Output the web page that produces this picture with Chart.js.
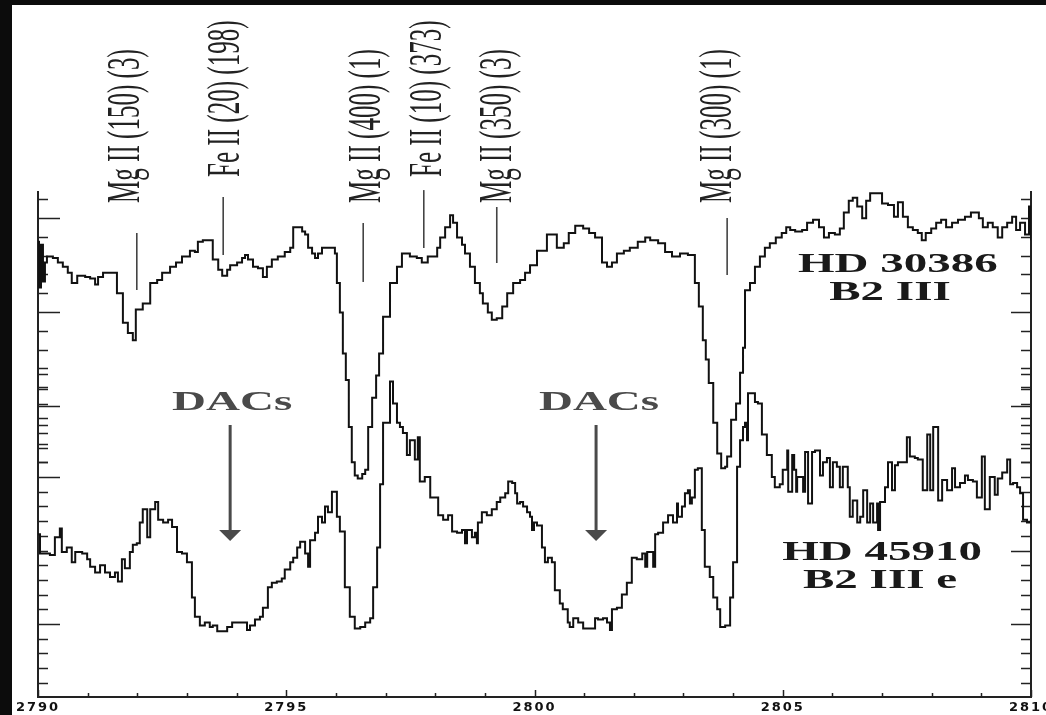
<!DOCTYPE html>
<html><head><meta charset="utf-8">
<script src="https://cdn.jsdelivr.net/npm/chart.js@4.4.1/dist/chart.umd.min.js"></script>
<style>
html,body{margin:0;padding:0;width:1046px;height:715px;overflow:hidden;background:#0c0c0c;}
#panel{position:absolute;left:12px;top:5px;width:1058px;height:710px;background:#fff;}
canvas{display:block;}
</style></head><body>
<div id="panel"><canvas id="c" width="1058" height="710"></canvas></div>
<script>
// ---- data (wavelength in Angstrom, relative flux) ----
const xTickValues = [2790, 2795, 2800, 2805, 2810];
const xMinorTicks = [2791,2792,2793,2794,2796,2797,2798,2799,2801,2802,2803,2804,2806,2807,2808,2809];

const lambdaTop = [2790.00,2790.02,2790.06,2790.10,2790.14,2790.18,2790.30,2790.40,2790.50,2790.60,2790.68,2790.79,2790.95,2791.05,2791.15,2791.21,2791.31,2791.49,2791.59,2791.71,2791.81,2791.91,2791.97,2792.11,2792.26,2792.40,2792.50,2792.66,2792.78,2792.90,2793.06,2793.16,2793.22,2793.32,2793.46,2793.52,2793.63,2793.71,2793.81,2793.87,2794.01,2794.11,2794.17,2794.23,2794.33,2794.43,2794.53,2794.61,2794.71,2794.83,2794.97,2795.08,2795.14,2795.24,2795.32,2795.38,2795.44,2795.52,2795.58,2795.64,2795.72,2795.84,2795.98,2796.02,2796.08,2796.14,2796.20,2796.26,2796.32,2796.38,2796.44,2796.53,2796.59,2796.65,2796.73,2796.81,2796.87,2796.95,2797.09,2797.23,2797.33,2797.49,2797.63,2797.73,2797.85,2798.04,2798.10,2798.20,2798.30,2798.36,2798.44,2798.54,2798.60,2798.70,2798.80,2798.90,2798.96,2799.06,2799.14,2799.24,2799.35,2799.45,2799.57,2799.71,2799.81,2799.91,2800.05,2800.25,2800.45,2800.59,2800.69,2800.82,2800.98,2801.10,2801.22,2801.36,2801.46,2801.56,2801.66,2801.80,2801.92,2802.08,2802.23,2802.33,2802.49,2802.63,2802.77,2802.93,2803.09,2803.23,2803.31,2803.39,2803.45,2803.51,2803.60,2803.68,2803.76,2803.84,2803.88,2803.96,2804.06,2804.14,2804.20,2804.24,2804.34,2804.44,2804.54,2804.64,2804.74,2804.86,2804.98,2805.07,2805.15,2805.25,2805.39,2805.49,2805.61,2805.73,2805.83,2805.93,2806.05,2806.15,2806.23,2806.33,2806.41,2806.50,2806.60,2806.68,2806.76,2806.86,2807.00,2807.12,2807.24,2807.32,2807.42,2807.52,2807.62,2807.72,2807.80,2807.88,2807.99,2808.09,2808.19,2808.29,2808.41,2808.53,2808.67,2808.79,2808.95,2809.03,2809.13,2809.23,2809.33,2809.42,2809.52,2809.62,2809.70,2809.78,2809.88,2809.96,2810.00];
const fluxTop = [2.60,2.29,2.58,2.33,2.46,2.50,2.49,2.46,2.43,2.39,2.32,2.37,2.36,2.35,2.31,2.36,2.39,2.39,2.25,2.05,1.98,1.93,2.14,2.18,2.32,2.34,2.39,2.43,2.46,2.50,2.54,2.53,2.60,2.61,2.61,2.48,2.41,2.37,2.41,2.44,2.46,2.49,2.51,2.48,2.43,2.42,2.36,2.43,2.48,2.50,2.53,2.56,2.70,2.70,2.67,2.65,2.56,2.52,2.49,2.52,2.56,2.56,2.52,2.32,2.12,1.84,1.66,1.34,1.10,1.01,0.99,1.02,1.05,1.34,1.54,1.69,1.84,2.09,2.32,2.43,2.52,2.50,2.49,2.46,2.50,2.56,2.63,2.70,2.78,2.73,2.63,2.58,2.52,2.43,2.32,2.25,2.18,2.12,2.07,2.08,2.16,2.25,2.32,2.34,2.39,2.44,2.54,2.65,2.56,2.59,2.66,2.71,2.69,2.66,2.63,2.46,2.43,2.46,2.52,2.54,2.56,2.60,2.63,2.61,2.59,2.53,2.50,2.52,2.51,2.32,2.16,1.93,1.80,1.64,1.37,1.16,1.06,1.07,1.14,1.39,1.50,1.71,1.88,2.27,2.32,2.43,2.50,2.56,2.59,2.63,2.66,2.70,2.68,2.67,2.68,2.73,2.75,2.70,2.63,2.66,2.65,2.69,2.80,2.88,2.90,2.84,2.76,2.88,2.93,2.93,2.86,2.85,2.77,2.87,2.77,2.70,2.68,2.66,2.61,2.66,2.69,2.73,2.75,2.70,2.73,2.75,2.77,2.80,2.76,2.70,2.73,2.70,2.63,2.70,2.73,2.77,2.68,2.73,2.65,2.84,2.61];

const lambdaBottom = [2790.00,2790.04,2790.14,2790.24,2790.34,2790.44,2790.48,2790.58,2790.68,2790.75,2790.89,2790.99,2791.05,2791.15,2791.25,2791.35,2791.45,2791.55,2791.61,2791.69,2791.75,2791.85,2791.91,2791.99,2792.05,2792.11,2792.20,2792.26,2792.36,2792.42,2792.52,2792.62,2792.70,2792.80,2792.90,2793.00,2793.10,2793.16,2793.26,2793.36,2793.46,2793.52,2793.61,2793.71,2793.81,2793.91,2794.01,2794.11,2794.21,2794.27,2794.37,2794.47,2794.53,2794.63,2794.71,2794.81,2794.91,2794.97,2795.08,2795.14,2795.22,2795.28,2795.38,2795.44,2795.48,2795.58,2795.64,2795.72,2795.78,2795.84,2795.92,2796.02,2796.08,2796.18,2796.28,2796.38,2796.49,2796.59,2796.69,2796.75,2796.83,2796.89,2796.95,2797.03,2797.09,2797.15,2797.23,2797.29,2797.35,2797.43,2797.49,2797.59,2797.65,2797.69,2797.79,2797.90,2797.96,2798.06,2798.16,2798.26,2798.34,2798.44,2798.54,2798.60,2798.64,2798.74,2798.80,2798.84,2798.86,2798.94,2799.04,2799.14,2799.24,2799.31,2799.41,2799.47,2799.55,2799.61,2799.65,2799.71,2799.77,2799.85,2799.91,2799.95,2799.99,2800.05,2800.15,2800.21,2800.27,2800.35,2800.41,2800.51,2800.57,2800.67,2800.71,2800.78,2800.88,2800.98,2801.12,2801.22,2801.28,2801.38,2801.46,2801.52,2801.56,2801.66,2801.76,2801.86,2801.96,2802.06,2802.17,2802.23,2802.27,2802.37,2802.39,2802.43,2802.49,2802.59,2802.69,2802.79,2802.87,2802.89,2802.97,2803.03,2803.09,2803.13,2803.17,2803.23,2803.29,2803.37,2803.43,2803.53,2803.60,2803.68,2803.74,2803.84,2803.94,2804.00,2804.08,2804.14,2804.20,2804.24,2804.28,2804.30,2804.38,2804.44,2804.50,2804.58,2804.68,2804.78,2804.84,2804.94,2805.00,2805.09,2805.11,2805.19,2805.23,2805.27,2805.29,2805.39,2805.41,2805.45,2805.51,2805.59,2805.65,2805.75,2805.81,2805.89,2805.95,2806.01,2806.09,2806.15,2806.21,2806.31,2806.35,2806.41,2806.50,2806.56,2806.62,2806.70,2806.76,2806.82,2806.90,2806.92,2806.96,2807.06,2807.12,2807.20,2807.26,2807.32,2807.40,2807.50,2807.56,2807.66,2807.72,2807.82,2807.91,2807.97,2808.03,2808.13,2808.21,2808.31,2808.41,2808.47,2808.57,2808.67,2808.73,2808.83,2808.91,2809.01,2809.07,2809.17,2809.27,2809.33,2809.42,2809.52,2809.58,2809.64,2809.72,2809.78,2809.84,2809.92,2810.00];
const fluxBottom = [0.61,0.48,0.48,0.47,0.59,0.65,0.49,0.52,0.42,0.49,0.48,0.44,0.39,0.35,0.40,0.35,0.32,0.35,0.29,0.44,0.38,0.49,0.54,0.55,0.69,0.78,0.59,0.78,0.83,0.71,0.69,0.71,0.66,0.49,0.48,0.42,0.18,0.05,-0.01,0.01,-0.02,-0.01,-0.05,-0.05,-0.02,0.01,0.01,0.01,-0.04,-0.01,0.03,0.05,0.11,0.25,0.28,0.29,0.31,0.37,0.42,0.45,0.52,0.56,0.48,0.39,0.57,0.62,0.73,0.69,0.80,0.76,0.90,0.73,0.63,0.25,0.05,-0.03,-0.02,0.01,0.04,0.25,0.52,0.95,1.37,1.37,1.65,1.50,1.37,1.34,1.30,1.15,1.25,1.12,1.27,0.97,1.00,0.86,0.86,0.74,0.71,0.74,0.63,0.62,0.64,0.55,0.64,0.59,0.62,0.55,0.69,0.76,0.74,0.78,0.83,0.86,0.89,0.97,0.96,0.89,0.82,0.83,0.80,0.76,0.73,0.64,0.69,0.67,0.52,0.42,0.45,0.42,0.23,0.14,0.10,0.01,-0.02,0.04,0.01,-0.03,-0.03,0.04,0.03,0.04,0.01,-0.04,0.10,0.11,0.20,0.28,0.45,0.44,0.48,0.39,0.49,0.49,0.39,0.61,0.62,0.69,0.74,0.69,0.82,0.73,0.80,0.89,0.91,0.82,0.86,1.05,1.06,0.64,0.39,0.32,0.18,0.10,-0.02,-0.01,0.18,0.42,1.07,1.25,1.34,1.37,1.25,1.57,1.57,1.51,1.50,1.29,1.15,1.00,0.93,0.95,1.05,1.18,0.90,1.15,1.05,0.90,1.00,1.00,0.90,1.17,0.82,1.17,1.18,1.01,1.10,1.13,0.93,1.10,1.07,0.93,1.07,0.93,0.73,0.84,0.69,0.73,0.91,0.69,0.82,0.69,0.82,0.64,0.83,0.93,1.10,0.91,1.08,1.10,1.10,1.27,1.14,1.13,1.12,0.91,1.29,0.91,1.34,0.84,0.98,0.91,1.06,0.93,0.96,1.01,0.98,0.97,0.86,1.14,0.78,1.00,0.88,0.99,1.03,1.12,0.95,0.96,0.93,0.89,0.71,0.69,0.71];

// unlabelled y-axis tick sets (two overlaid panels)
const yTicksA = [-0.4,-0.3,-0.2,-0.1,0,0.1,0.2,0.3,0.4,0.5,0.6,0.7,0.8,0.9,1.0,1.1,1.2,1.3,1.4,1.5,1.6,1.7];
const yTicksB = [0.4,0.6,0.8,1.0,1.2,1.4,1.6,1.8,2.0,2.2,2.4,2.6,2.8,3.0,3.2];
const majorsA = {left:[0,1], right:[0,0.5]};
const majorsB = {left:[1,2,3], right:[1,2]};

// annotations
const lineLabels = [
  {text:'Mg II (150) (3)', x:2792.03, y:2.864, lineX:2791.99, lineTop:2.660, lineBottom:2.272},
  {text:'Fe II (20) (198)', x:2794.05, y:3.041, lineX:2793.73, lineTop:2.905, lineBottom:2.510},
  {text:'Mg II (400) (1)', x:2796.89, y:2.864, lineX:2796.55, lineTop:2.728, lineBottom:2.327},
  {text:'Fe II (10) (373)', x:2798.12, y:3.041, lineX:2797.77, lineTop:2.952, lineBottom:2.558},
  {text:'Mg II (350) (3)', x:2799.53, y:2.864, lineX:2799.24, lineTop:2.837, lineBottom:2.456},
  {text:'Mg II (300) (1)', x:2803.96, y:2.864, lineX:2803.88, lineTop:2.762, lineBottom:2.374}
];
const starLabels = [
  {text:'HD 30386', x:2807.32, y:2.395},
  {text:'B2 III', x:2807.16, y:2.204},
  {text:'HD 45910', x:2807.00, y:0.435},
  {text:'B2 III e', x:2806.96, y:0.245}
];
const dacs = [
  {text:'DACs', x:2793.91, y:1.456, arrowX:2793.87, from:1.354, headStart:0.639, tip:0.565},
  {text:'DACs', x:2801.30, y:1.456, arrowX:2801.24, from:1.354, headStart:0.639, tip:0.565}
];

if (lambdaTop.length !== fluxTop.length) throw new Error('top length ' + lambdaTop.length + ' vs ' + fluxTop.length);
if (lambdaBottom.length !== fluxBottom.length) throw new Error('bottom length ' + lambdaBottom.length + ' vs ' + fluxBottom.length);

const Y_MIN = -0.4966, Y_MAX = 2.939;
const SQUASH = 0.57;
const LABEL_SQUASH = 0.545;

const deco = {
  id: 'deco',
  beforeDraw(chart) { chart.ctx.letterSpacing = '2px'; },
  beforeDatasetsDraw(chart) {
    const ctx = chart.ctx; ctx.letterSpacing = '0px';
    const a = chart.chartArea, ys = chart.scales.y, yb = chart.scales.yB, xs = chart.scales.x;
    ctx.save();
    ctx.strokeStyle = '#222'; ctx.lineWidth = 1.5;
    const drawSet = (vals, scale, majors) => {
      vals.forEach(v => {
        const py = Math.round(scale.getPixelForValue(v)) + 0.5;
        const ll = majors.left.some(m => Math.abs(m - v) < 1e-6) ? 22 : 10;
        const lr = majors.right.some(m => Math.abs(m - v) < 1e-6) ? 20 : 10;
        ctx.beginPath(); ctx.moveTo(a.left, py); ctx.lineTo(a.left + ll, py); ctx.stroke();
        ctx.beginPath(); ctx.moveTo(a.right, py); ctx.lineTo(a.right - lr, py); ctx.stroke();
      });
    };
    drawSet(yTicksA, ys, majorsA);
    drawSet(yTicksB, yb, majorsB);
    xMinorTicks.forEach(v => { const px = Math.round(xs.getPixelForValue(v)) + 0.5; ctx.beginPath(); ctx.moveTo(px, a.bottom); ctx.lineTo(px, a.bottom - 4); ctx.stroke(); });
    xTickValues.forEach(v => { const px = Math.round(xs.getPixelForValue(v)) + 0.5; ctx.beginPath(); ctx.moveTo(px, a.bottom); ctx.lineTo(px, a.bottom - 7); ctx.stroke(); });
    ctx.restore();
  },
  afterDraw(chart) {
    const ctx = chart.ctx, xs = chart.scales.x, ys = chart.scales.y;
    const X = v => xs.getPixelForValue(v), Y = v => ys.getPixelForValue(v);
    ctx.save();
    ctx.letterSpacing = '0px';
    ctx.strokeStyle = '#444'; ctx.lineWidth = 1.6;
    lineLabels.forEach(l => {
      ctx.beginPath(); ctx.moveTo(X(l.lineX), Y(l.lineTop)); ctx.lineTo(X(l.lineX), Y(l.lineBottom)); ctx.stroke();
    });
    ctx.fillStyle = '#222'; ctx.font = '46px "Liberation Serif"'; ctx.textAlign = 'left'; ctx.textBaseline = 'alphabetic';
    lineLabels.forEach(l => {
      ctx.save(); ctx.translate(X(l.x), Y(l.y)); ctx.scale(1, LABEL_SQUASH); ctx.rotate(-Math.PI / 2);
      ctx.fillText(l.text, 0, 0); ctx.restore();
    });
    ctx.fillStyle = '#1a1a1a'; ctx.font = 'bold 47px "Liberation Serif"'; ctx.textAlign = 'center';
    starLabels.forEach(l => {
      ctx.save(); ctx.translate(X(l.x), Y(l.y)); ctx.scale(1, SQUASH); ctx.fillText(l.text, 0, 0); ctx.restore();
    });
    ctx.fillStyle = '#4a4a4a'; ctx.strokeStyle = '#4a4a4a';
    dacs.forEach(d => {
      ctx.save(); ctx.translate(X(d.x), Y(d.y)); ctx.scale(1, SQUASH); ctx.fillText(d.text, 0, 0); ctx.restore();
      const ax = X(d.arrowX);
      ctx.lineWidth = 3;
      ctx.beginPath(); ctx.moveTo(ax, Y(d.from)); ctx.lineTo(ax, Y(d.headStart)); ctx.stroke();
      ctx.beginPath(); ctx.moveTo(ax - 11, Y(d.headStart)); ctx.lineTo(ax + 11, Y(d.headStart)); ctx.lineTo(ax, Y(d.tip)); ctx.closePath(); ctx.fill();
    });
    ctx.restore();
  }
};

const yAxisBase = (pos) => ({
  type: 'linear', position: pos, min: Y_MIN, max: Y_MAX,
  grid: { display: false, drawTicks: false },
  border: { display: true, color: '#222', width: 2 },
  ticks: { display: false },
  afterFit: s => { s.width = 0; }
});

new Chart(document.getElementById('c'), {
  type: 'line',
  data: {
    datasets: [
      { label: 'HD 30386 (B2 III)', data: lambdaTop.map((x, i) => ({ x, y: fluxTop[i] })), borderColor: '#111', borderWidth: 2, stepped: 'before', pointRadius: 0, fill: false },
      { label: 'HD 45910 (B2 III e)', data: lambdaBottom.map((x, i) => ({ x, y: fluxBottom[i] })), borderColor: '#111', borderWidth: 2, stepped: 'before', pointRadius: 0, fill: false }
    ]
  },
  options: {
    responsive: false, animation: false, devicePixelRatio: 1,
    layout: { padding: { left: 26, right: 39, top: 187, bottom: 2 } },
    plugins: { legend: { display: false }, tooltip: { enabled: false } },
    scales: {
      x: {
        type: 'linear', position: 'bottom', min: 2790, max: 2810,
        grid: { display: false, drawTicks: false },
        border: { display: true, color: '#222', width: 2 },
        ticks: { padding: 3, color: '#111', font: { family: 'DejaVu Sans', size: 13, weight: 'bold' }, maxRotation: 0, autoSkip: false, callback: v => String(v) },
        afterBuildTicks: s => { s.ticks = xTickValues.map(v => ({ value: v })); },
        afterFit: s => { s.height = 16; }
      },
      y: yAxisBase('left'),
      yR: yAxisBase('right'),
      yB: { type: 'linear', display: false, min: -2.096, max: 3.277 }
    }
  },
  plugins: [deco]
});
</script></body></html>
